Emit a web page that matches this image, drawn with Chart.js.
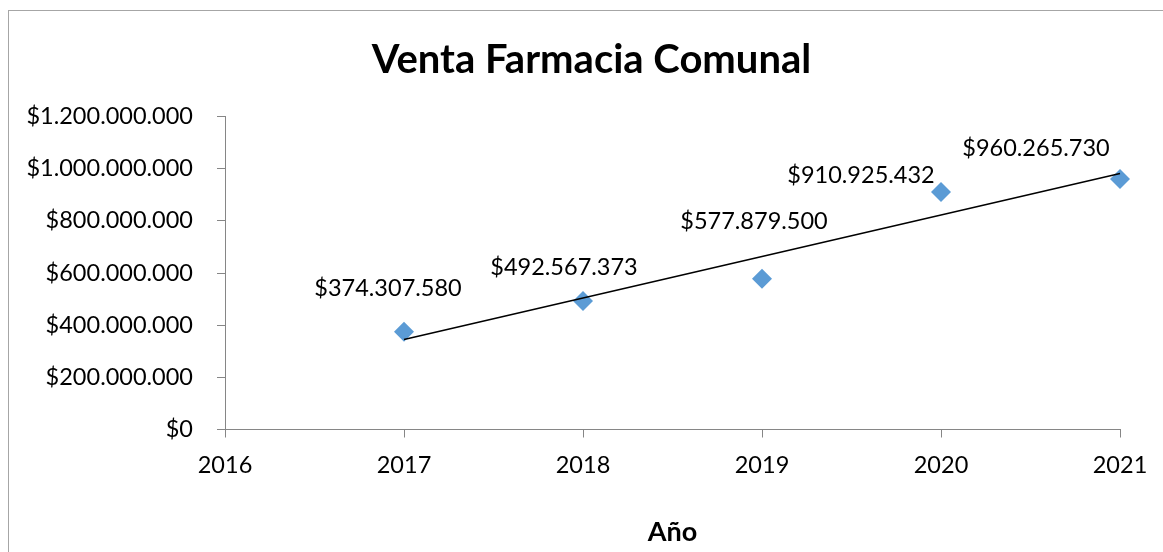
<!DOCTYPE html>
<html>
<head>
<meta charset="utf-8">
<script src="https://cdn.jsdelivr.net/npm/chart.js@4"></script>
<style>
  html, body { margin: 0; padding: 0; background: #fff; }
  #wrap { width: 1163px; height: 552px; }
</style>
</head>
<body>
<div id="wrap"><canvas id="ventasChart"></canvas></div>
<script>
const years = [2017, 2018, 2019, 2020, 2021];
const ventas = [374307580, 492567373, 577879500, 910925432, 960265730];
const xRange = [2016, 2021];
const yRange = [0, 1200000000];
const yStep = 200000000;
const chartTitle = "Venta Farmacia Comunal";
const xTitle = "Año";

// where each value label sits relative to its point (px)
const labelDx = [-16, -19, -8, -80, -84];
const labelDy = [-44, -34, -58, -17, -31];

function pesos(v) {
    return "$" + String(Math.round(v)).replace(/\B(?=(\d{3})+(?!\d))/g, ".");
}

// linear trend (least squares), same as Excel's trendline
const n = years.length;
const mx = years.reduce((a, b) => a + b, 0) / n;
const my = ventas.reduce((a, b) => a + b, 0) / n;
let sxy = 0, sxx = 0;
for (let i = 0; i < n; i++) {
    sxy += (years[i] - mx) * (ventas[i] - my);
    sxx += (years[i] - mx) * (years[i] - mx);
}
const slope = sxy / sxx;
const trend = [years[0], years[n - 1]].map(x => ({ x: x, y: my + slope * (x - mx) }));

// frame + title (title is centred on the frame, not on the plot)
const frame = {
    id: "frame",
    beforeDraw(chart) {
        const c = chart.ctx;
        c.save();
        c.fillStyle = "#fff";
        c.fillRect(0, 0, chart.width, chart.height);
        c.strokeStyle = "#a6a6a6";
        c.lineWidth = 1;
        c.strokeRect(8.5, 10.5, 1200, 600);
        c.fillStyle = "#000";
        c.font = "bold 40px Lato";
        c.textAlign = "center";
        c.textBaseline = "alphabetic";
        c.fillText(chartTitle, 591.5, 73);
        c.restore();
    }
};

const valueLabels = {
    id: "valueLabels",
    afterDatasetsDraw(chart) {
        const meta = chart.getDatasetMeta(1);
        const c = chart.ctx;
        c.save();
        c.font = "23.5px Lato";
        c.fillStyle = "#000";
        c.textAlign = "center";
        c.textBaseline = "alphabetic";
        meta.data.forEach((pt, i) => {
            c.fillText(pesos(ventas[i]), pt.x + labelDx[i], pt.y + labelDy[i] + 8);
        });
        c.restore();
    }
};

const ctx = document.getElementById("ventasChart").getContext("2d");

new Chart(ctx, {
    type: "scatter",
    data: {
        datasets: [{
            type: "line",
            data: trend,
            borderColor: "#000",
            borderWidth: 1.5,
            pointRadius: 0,
            fill: false,
            clip: false,
            order: 0,
        }, {
            data: years.map((x, i) => ({ x: x, y: ventas[i] })),
            backgroundColor: "#5b9bd5",
            borderColor: "#5b9bd5",
            borderWidth: 0,
            pointStyle: "rectRot",
            pointRadius: 10,
            clip: false,
            order: 1,
        }],
    },
    options: {
        responsive: true,
        maintainAspectRatio: false,
        animation: false,
        layout: { padding: { left: 10, right: 43, top: 116.5, bottom: 0 } },
        plugins: {
            legend: { display: false },
            tooltip: { enabled: false },
            title: { display: false },
        },
        scales: {
            x: {
                type: "linear",
                min: xRange[0],
                max: xRange[1],
                afterFit: (scale) => { scale.height = 122.5; },
                grid: { drawOnChartArea: false, drawTicks: true, tickLength: 8, color: "#868686" },
                border: { display: true, color: "#868686", width: 1 },
                ticks: {
                    stepSize: 1,
                    padding: 14,
                    color: "#000",
                    font: { family: "Lato", size: 23.5 },
                    callback: (v) => String(v),
                },
                title: {
                    display: true,
                    text: xTitle,
                    color: "#000",
                    font: { family: "Lato", size: 27, weight: "bold" },
                    padding: { top: 0, bottom: 4 },
                },
            },
            y: {
                min: yRange[0],
                max: yRange[1],
                afterFit: (scale) => { scale.width = 215; },
                grid: { drawOnChartArea: false, drawTicks: true, tickLength: 8, color: "#868686" },
                border: { display: true, color: "#868686", width: 1 },
                ticks: {
                    stepSize: yStep,
                    padding: 24,
                    color: "#000",
                    font: { family: "Lato", size: 23.5 },
                    callback: (v) => pesos(v),
                },
            },
        },
    },
    plugins: [frame, valueLabels],
});
</script>
</body>
</html>
